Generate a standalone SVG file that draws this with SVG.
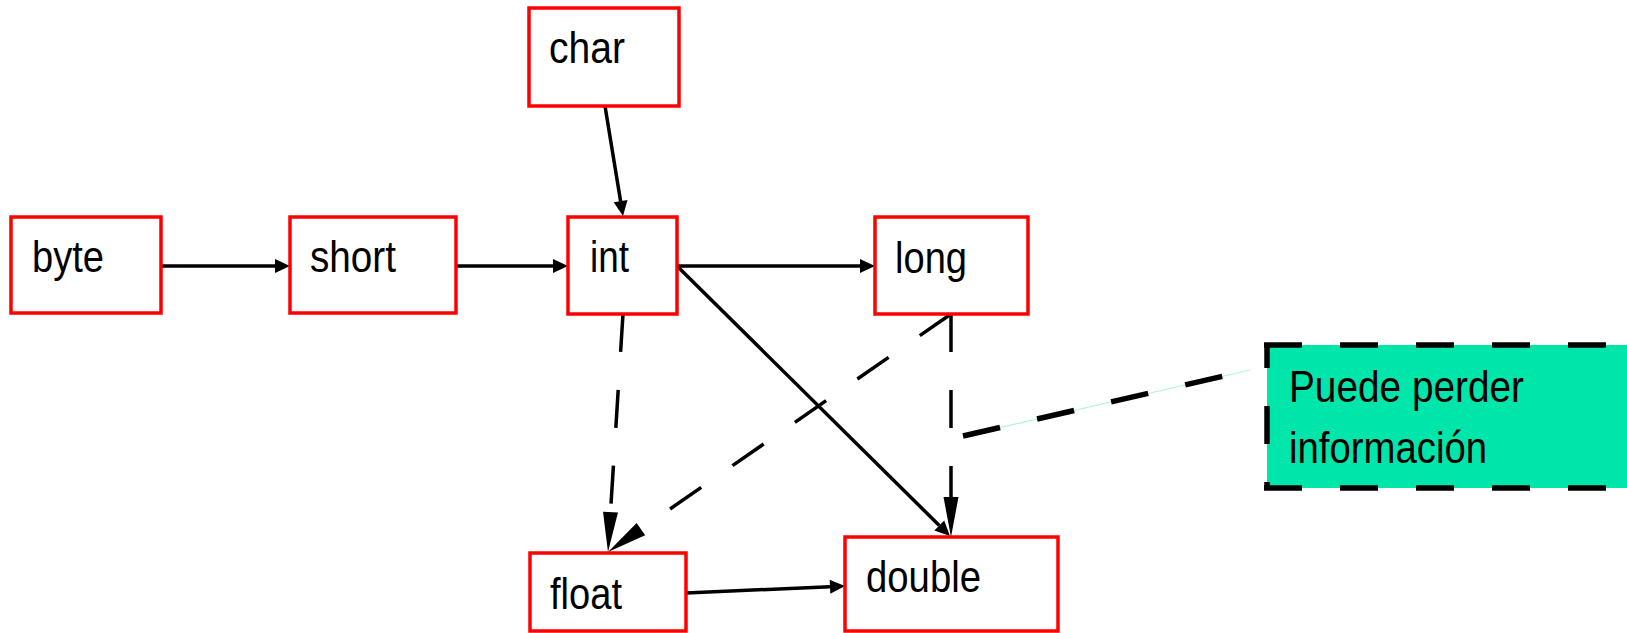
<svg xmlns="http://www.w3.org/2000/svg" width="1627" height="633" viewBox="0 0 1627 633">
<defs>
<style>
.box{fill:#ffffff;stroke:#ff0000;stroke-width:3.5}
.lbl{font-family:"Liberation Sans",Arial,sans-serif;font-size:44px;fill:#000000}
.solid{fill:none;stroke:#000000;stroke-width:3.5}
.dash{fill:none;stroke:#000000;stroke-width:3.5;stroke-dasharray:38 38}
.ndash{fill:none;stroke:#000000;stroke-width:5.5;stroke-dasharray:38 38}
</style>
<marker id="hs" markerUnits="userSpaceOnUse" markerWidth="16" markerHeight="15" refX="0" refY="7" orient="auto" overflow="visible">
<path d="M0,0 L15,7 L0,14 Z" fill="#000000"/>
</marker>
<marker id="hd" markerUnits="userSpaceOnUse" markerWidth="41" markerHeight="16" refX="0" refY="7.5" orient="auto" overflow="visible">
<path d="M0,0 L40,7.5 L0,15 Z" fill="#000000"/>
</marker>
</defs>
<rect x="0" y="0" width="1627" height="633" fill="#ffffff"/>

<g id="connectors">
<line class="solid" x1="161" y1="266" x2="275" y2="266" marker-end="url(#hs)"/>
<line class="solid" x1="456" y1="266" x2="553" y2="266" marker-end="url(#hs)"/>
<line class="solid" x1="605" y1="106" x2="620.6" y2="201.2" marker-end="url(#hs)"/>
<line class="solid" x1="677" y1="266" x2="860" y2="266" marker-end="url(#hs)"/>
<line class="solid" x1="677" y1="266" x2="939.3" y2="525.5" marker-end="url(#hs)"/>
<line class="solid" x1="686" y1="593" x2="830" y2="586.7" marker-end="url(#hs)"/>
<line class="dash" x1="623" y1="314" x2="610.5" y2="512.1" marker-end="url(#hd)"/>
<line class="dash" x1="951" y1="314" x2="640.9" y2="529.2" marker-end="url(#hd)"/>
<line class="dash" x1="951" y1="314" x2="951" y2="497" marker-end="url(#hd)"/>
<line x1="963" y1="436" x2="1250" y2="370" stroke="#b3f3e1" stroke-width="1.2"/>
<line class="ndash" x1="963" y1="436" x2="1250" y2="370"/>
</g>

<g id="node-byte">
<rect class="box" x="11" y="217" width="150" height="96"/>
<text class="lbl" x="32" y="272" textLength="72" lengthAdjust="spacingAndGlyphs">byte</text>
</g>
<g id="node-short">
<rect class="box" x="290" y="217" width="166" height="96"/>
<text class="lbl" x="310" y="272" textLength="86" lengthAdjust="spacingAndGlyphs">short</text>
</g>
<g id="node-char">
<rect class="box" x="529" y="8" width="150" height="98"/>
<text class="lbl" x="549" y="63" textLength="76" lengthAdjust="spacingAndGlyphs">char</text>
</g>
<g id="node-int">
<rect class="box" x="568" y="217" width="109" height="97"/>
<text class="lbl" x="590" y="272" textLength="39" lengthAdjust="spacingAndGlyphs">int</text>
</g>
<g id="node-long">
<rect class="box" x="875" y="217" width="153" height="97"/>
<text class="lbl" x="895" y="273" textLength="72" lengthAdjust="spacingAndGlyphs">long</text>
</g>
<g id="node-float">
<rect class="box" x="530" y="553" width="156" height="78"/>
<text class="lbl" x="550" y="609" textLength="72" lengthAdjust="spacingAndGlyphs">float</text>
</g>
<g id="node-double">
<rect class="box" x="845" y="537" width="213" height="94"/>
<text class="lbl" x="866" y="592" textLength="115" lengthAdjust="spacingAndGlyphs">double</text>
</g>
<g id="node-note">
<rect x="1267" y="345" width="380" height="143" fill="#00e5aa"/>
<line class="ndash" x1="1264" y1="345" x2="1640" y2="345"/>
<line class="ndash" x1="1264" y1="488" x2="1640" y2="488"/>
<line class="ndash" x1="1267" y1="345" x2="1267" y2="488" stroke-dashoffset="15"/>
<text class="lbl" x="1289" y="402" textLength="235" lengthAdjust="spacingAndGlyphs">Puede perder</text>
<text class="lbl" x="1289" y="463" textLength="198" lengthAdjust="spacingAndGlyphs">información</text>
</g>
</svg>
